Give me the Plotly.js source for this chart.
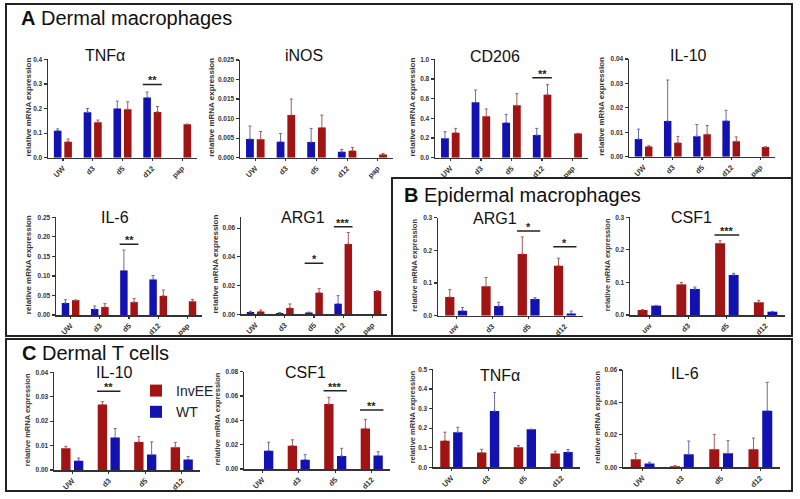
<!DOCTYPE html>
<html>
<head>
<meta charset="utf-8">
<script src="https://cdn.plot.ly/plotly-3.0.1.min.js"></script>
<style>html,body{margin:0;padding:0;background:#fff;}#chart{width:800px;height:499px;}</style>
</head>
<body>
<div id="chart"></div>
<script>
// ---------- categories ----------
const catsA = ['UW','d3','d5','d12','pap'];
const catsB = ['uw','d3','d5','d12'];
const catsC = ['UW','d3','d5','d12'];

// ---------- A: Dermal macrophages (WT, InvEE) ----------
const dmTNFaWT     = [0.110, 0.185, 0.200, 0.245, null];
const dmTNFaWTerr  = [0.007, 0.015, 0.030, 0.022, null];
const dmTNFaInv    = [0.065, 0.144, 0.197, 0.186, 0.136];
const dmTNFaInverr = [0.011, 0.009, 0.030, 0.022, 0];

const dmINOSWT     = [0.0048, 0.0041, 0.0040, 0.0015, null];
const dmINOSWTerr  = [0.0033, 0.0021, 0.0035, 0.0006, null];
const dmINOSInv    = [0.0047, 0.0109, 0.0077, 0.0018, 0.0008];
const dmINOSInverr = [0.0020, 0.0041, 0.0032, 0.0008, 0.0003];

const dmCD206WT     = [0.197, 0.563, 0.356, 0.230, null];
const dmCD206WTerr  = [0.067, 0.125, 0.084, 0.068, null];
const dmCD206Inv    = [0.254, 0.420, 0.532, 0.640, 0.247];
const dmCD206Inverr = [0.044, 0.075, 0.118, 0.102, 0];

const dmIL10WT     = [0.0072, 0.0146, 0.0084, 0.0147, null];
const dmIL10WTerr  = [0.0041, 0.0168, 0.0048, 0.0043, null];
const dmIL10Inv    = [0.0042, 0.0057, 0.0092, 0.0063, 0.0040];
const dmIL10Inverr = [0.0003, 0.0026, 0.0036, 0.0018, 0];

const dmIL6WT     = [0.0307, 0.0154, 0.114, 0.091, null];
const dmIL6WTerr  = [0.0083, 0.0076, 0.052, 0.010, null];
const dmIL6Inv    = [0.038, 0.0205, 0.033, 0.049, 0.035];
const dmIL6Inverr = [0, 0.0085, 0.009, 0.015, 0.005];

const dmARG1WT     = [0.0016, 0.0009, 0.0012, 0.0074, null];
const dmARG1WTerr  = [0.0005, 0.0003, 0.0003, 0.0056, null];
const dmARG1Inv    = [0.0019, 0.0044, 0.0151, 0.049, 0.0163];
const dmARG1Inverr = [0.0011, 0.0028, 0.0028, 0.008, 0];

// ---------- B: Epidermal macrophages (InvEE, WT) ----------
const emARG1Inv    = [0.057, 0.090, 0.189, 0.153];
const emARG1Inverr = [0.023, 0.027, 0.052, 0.023];
const emARG1WT     = [0.0153, 0.0296, 0.051, 0.007];
const emARG1WTerr  = [0.010, 0.0114, 0.004, 0.0073];

const emCSF1Inv    = [0.0154, 0.094, 0.220, 0.039];
const emCSF1Inverr = [0.001, 0.006, 0.008, 0.006];
const emCSF1WT     = [0.0287, 0.080, 0.123, 0.0102];
const emCSF1WTerr  = [0.001, 0.006, 0.005, 0.001];

// ---------- C: Dermal T cells (InvEE, WT) ----------
const dtIL10Inv    = [0.0089, 0.0268, 0.0115, 0.0093];
const dtIL10Inverr = [0.0008, 0.0012, 0.0022, 0.0020];
const dtIL10WT     = [0.0038, 0.0133, 0.0063, 0.0043];
const dtIL10WTerr  = [0.0011, 0.0037, 0.0052, 0.0012];

const dtCSF1Inv    = [null, 0.0192, 0.0534, 0.0334];
const dtCSF1Inverr = [null, 0.0048, 0.0056, 0.0074];
const dtCSF1WT     = [0.0151, 0.0077, 0.0107, 0.0112];
const dtCSF1WTerr  = [0.0069, 0.0041, 0.0063, 0.0030];

const dtTNFaInv    = [0.136, 0.075, 0.102, 0.070];
const dtTNFaInverr = [0.043, 0.017, 0.009, 0.012];
const dtTNFaWT     = [0.179, 0.287, 0.194, 0.078];
const dtTNFaWTerr  = [0.025, 0.095, 0, 0.013];

const dtIL6Inv    = [0.0049, 0.0006, 0.0111, 0.0111];
const dtIL6Inverr = [0.0037, 0.0004, 0.0092, 0.0069];
const dtIL6WT     = [0.0023, 0.0080, 0.0086, 0.0349];
const dtIL6WTerr  = [0.0008, 0.0082, 0.0078, 0.0175];

// ---------- significance marks [category, level, stars] ----------
const sigDmTNFa  = [['d12', 0.298, '**']];
const sigDmCD206 = [['d12', 0.813, '**']];
const sigDmIL6   = [['d5', 0.181, '**']];
const sigDmARG1  = [['d5', 0.0356, '*'], ['d12', 0.061, '***']];
const sigEmARG1  = [['d5', 0.259, '*'], ['d12', 0.211, '*']];
const sigEmCSF1  = [['d5', 0.246, '***']];
const sigDtIL10  = [['d3', 0.0322, '**']];
const sigDtCSF1  = [['d5', 0.0644, '***'], ['d12', 0.0485, '**']];

const yLabel = 'relative mRNA expression';

// ---------- styling / layout ----------
const W = 800, H = 499;
const px = x => x / W;
const py = y => 1 - y / H;
const BLUE = '#1212b0', RED = '#a01414';
const BLUE_ERR = '#6a6aa8', RED_ERR = '#a85a5a';
const FONT = 'Liberation Sans, Arial, sans-serif';

const WTs  = {name:'WT', color:BLUE, err:BLUE_ERR};
const INVs = {name:'InvEE', color:RED, err:RED_ERR};

// xa/ya: plot-area pixel box, tp: title centre, yt: y-title centre x, tf: y-title font size
const panels = [
  {xa:[48,197], ya:[59.3,157.7], range:[0,0.4], dtick:0.1, fmt:'.1f', cats:catsA, title:'TNFα', tp:[105,55], tf:8, yt:28,
   series:[[WTs,dmTNFaWT,dmTNFaWTerr],[INVs,dmTNFaInv,dmTNFaInverr]], sig:sigDmTNFa},
  {xa:[240,393], ya:[60,157.7], range:[0,0.025], dtick:0.005, fmt:'.3f', cats:catsA, title:'iNOS', tp:[304,55], tf:8, yt:212,
   series:[[WTs,dmINOSWT,dmINOSWTerr],[INVs,dmINOSInv,dmINOSInverr]], sig:[]},
  {xa:[435,588], ya:[59.3,157.7], range:[0,1.0], dtick:0.2, fmt:'.1f', cats:catsA, title:'CD206', tp:[495,56], tf:8, yt:412,
   series:[[WTs,dmCD206WT,dmCD206WTerr],[INVs,dmCD206Inv,dmCD206Inverr]], sig:sigDmCD206},
  {xa:[629,775], ya:[59,156.7], range:[0,0.04], dtick:0.01, fmt:'.2f', cats:catsA, title:'IL-10', tp:[688,55], tf:8, yt:602,
   series:[[WTs,dmIL10WT,dmIL10WTerr],[INVs,dmIL10Inv,dmIL10Inverr]], sig:[]},
  {xa:[56,202], ya:[217.3,315], range:[0,0.25], dtick:0.05, fmt:'.2f', cats:catsA, title:'IL-6', tp:[115,217], tf:8, yt:28,
   series:[[WTs,dmIL6WT,dmIL6WTerr],[INVs,dmIL6Inv,dmIL6Inverr]], sig:sigDmIL6},
  {xa:[241,387], ya:[216.7,314.3], range:[0,0.068], dtick:0.02, fmt:'.2f', cats:catsA, title:'ARG1', tp:[303,217], tf:8, yt:215,
   series:[[WTs,dmARG1WT,dmARG1WTerr],[INVs,dmARG1Inv,dmARG1Inverr]], sig:sigDmARG1},
  {xa:[438,583], ya:[217.7,315.7], range:[0,0.3], dtick:0.1, fmt:'.1f', cats:catsB, title:'ARG1', tp:[495,218], tf:7.5, yt:415,
   series:[[INVs,emARG1Inv,emARG1Inverr],[WTs,emARG1WT,emARG1WTerr]], sig:sigEmARG1},
  {xa:[630,785], ya:[217.3,315], range:[0,0.3], dtick:0.1, fmt:'.1f', cats:catsB, title:'CSF1', tp:[691,217], tf:7.5, yt:607,
   series:[[INVs,emCSF1Inv,emCSF1Inverr],[WTs,emCSF1WT,emCSF1WTerr]], sig:sigEmCSF1},
  {xa:[54,200], ya:[372.3,470], range:[0,0.04], dtick:0.01, fmt:'.2f', cats:catsC, title:'IL-10', tp:[115,372], tf:7.5, yt:27, legend:true,
   series:[[INVs,dtIL10Inv,dtIL10Inverr],[WTs,dtIL10WT,dtIL10WTerr]], sig:sigDtIL10},
  {xa:[244,390], ya:[371.7,469], range:[0,0.08], dtick:0.02, fmt:'.2f', cats:catsC, title:'CSF1', tp:[305,372], tf:7.5, yt:217,
   series:[[INVs,dtCSF1Inv,dtCSF1Inverr],[WTs,dtCSF1WT,dtCSF1WTerr]], sig:sigDtCSF1},
  {xa:[433,580], ya:[369.3,467.3], range:[0,0.5], dtick:0.1, fmt:'.1f', cats:catsC, title:'TNFα', tp:[500,375], tf:7.5, yt:412,
   series:[[INVs,dtTNFaInv,dtTNFaInverr],[WTs,dtTNFaWT,dtTNFaWTerr]], sig:[]},
  {xa:[623,780], ya:[370,467.3], range:[0,0.06], dtick:0.02, fmt:'.2f', cats:catsC, title:'IL-6', tp:[685,373], tf:7.5, yt:598,
   series:[[INVs,dtIL6Inv,dtIL6Inverr],[WTs,dtIL6WT,dtIL6WTerr]], sig:[]}
];

const data = [];
const layout = {
  width: W, height: H,
  margin: {l:0, r:0, t:0, b:0, pad:0},
  paper_bgcolor: '#fff', plot_bgcolor: 'rgba(0,0,0,0)',
  barmode: 'group', bargap: 0.3, bargroupgap: 0.27,
  font: {family: FONT, color: '#222'},
  showlegend: true,
  legend: {x: px(136), y: py(375), xanchor: 'left', yanchor: 'top',
           font: {family: FONT, size: 14, color: '#222'}, bgcolor: 'rgba(0,0,0,0)',
           tracegroupgap: 0, itemclick: false},
  shapes: [], annotations: []
};

panels.forEach((p, i) => {
  const n = i === 0 ? '' : String(i + 1);
  const xk = 'x' + n, yk = 'y' + n;
  p.series.forEach(([s, vals, errs]) => {
    data.push({
      type: 'bar', x: p.cats, y: vals, name: s.name,
      xaxis: xk, yaxis: yk,
      marker: {color: s.color, line: {width: 0}},
      error_y: {type: 'data', symmetric: false, array: errs, arrayminus: errs.map(() => 0),
                color: s.err, thickness: 1, width: 1.5},
      showlegend: !!p.legend, legendgroup: s.name,
      hoverinfo: 'skip'
    });
  });
  const axisCommon = {showgrid: false, zeroline: false, showline: true, linecolor: '#333', linewidth: 1.5,
                      ticks: 'outside', ticklen: 3, tickwidth: 1.2, tickcolor: '#333', automargin: false,
                      fixedrange: true};
  layout['xaxis' + n] = Object.assign({}, axisCommon, {
    domain: [px(p.xa[0]), px(p.xa[1])], anchor: yk, type: 'category',
    categoryorder: 'array', categoryarray: p.cats, range: [-0.5, p.cats.length - 0.5],
    tickangle: -45, ticklen: 2,
    tickfont: {family: FONT, size: 7.5, weight: 'bold', color: '#333'}
  });
  layout['yaxis' + n] = Object.assign({}, axisCommon, {
    domain: [py(p.ya[1]), py(p.ya[0])], anchor: xk,
    range: p.range, dtick: p.dtick, tick0: 0, tickformat: p.fmt,
    tickfont: {family: FONT, size: 6.5, weight: 'bold', color: '#333'}
  });
  // y-axis title (rotated text placed beside the axis)
  layout.annotations.push({
    xref: 'paper', yref: 'paper', x: px(p.yt), y: py((p.ya[0] + p.ya[1]) / 2 - 1),
    xanchor: 'center', yanchor: 'middle', showarrow: false, textangle: -90,
    text: yLabel, font: {family: FONT, size: p.tf, weight: 'bold', color: '#333'}
  });
  // panel title
  layout.annotations.push({
    xref: 'paper', yref: 'paper', x: px(p.tp[0]), y: py(p.tp[1]),
    xanchor: 'center', yanchor: 'middle', showarrow: false,
    text: p.title, font: {family: FONT, size: 16, color: '#111'}
  });
  p.sig.forEach(([cat, lvl, stars]) => {
    const k = p.cats.indexOf(cat);
    layout.shapes.push({type: 'line', xref: xk, yref: yk, x0: k - 0.32, x1: k + 0.32, y0: lvl, y1: lvl,
                        line: {color: '#222', width: 1.5}});
    layout.annotations.push({xref: xk, yref: yk, x: k, y: lvl, xanchor: 'center', yanchor: 'bottom',
                             yshift: -4, showarrow: false, text: stars,
                             font: {family: FONT, size: 11, weight: 'bold', color: '#222'}});
  });
});

// panel frames
const frame = (x0, y0, x1, y1) => ({type: 'rect', xref: 'paper', yref: 'paper',
  x0: px(x0), x1: px(x1), y0: py(y1), y1: py(y0), line: {color: '#222', width: 2}, fillcolor: 'rgba(0,0,0,0)'});
layout.shapes.push(frame(6, 4, 792, 336));
layout.shapes.push(frame(392, 178, 792, 336));
layout.shapes.push(frame(6, 339, 792, 491));

// section headers
const header = (x, y, letter, txt) => ({xref: 'paper', yref: 'paper', x: px(x), y: py(y),
  xanchor: 'left', yanchor: 'middle', showarrow: false,
  text: '<b>' + letter + '</b> ' + txt, font: {family: FONT, size: 20, color: '#111'}});
layout.annotations.push(header(19, 18, 'A', 'Dermal macrophages'));
layout.annotations.push(header(402, 195, 'B', 'Epidermal macrophages'));
layout.annotations.push(header(20, 353, 'C', 'Dermal T cells'));

Plotly.newPlot('chart', data, layout, {displayModeBar: false, staticPlot: true});
</script>
</body>
</html>
